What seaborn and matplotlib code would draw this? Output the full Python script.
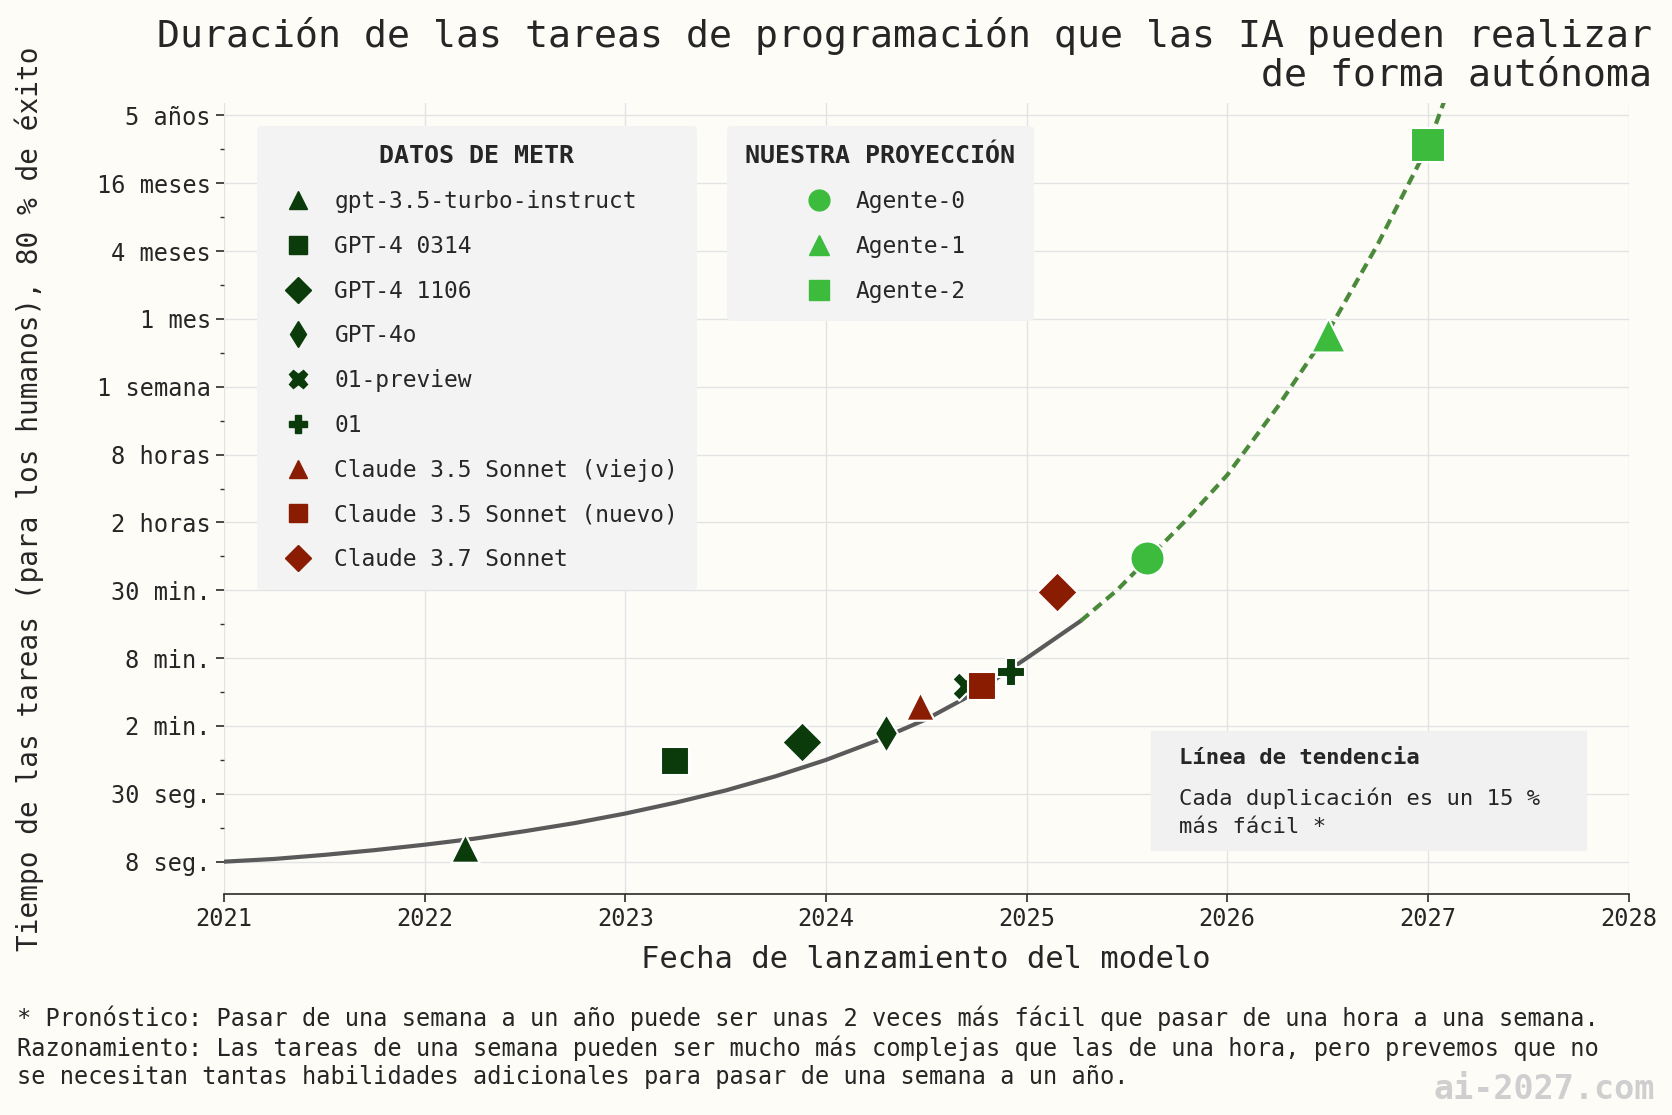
import matplotlib
matplotlib.use("Agg")
import matplotlib.pyplot as plt
import seaborn as sns
import numpy as np

sns.set_theme(style="whitegrid")
plt.rcParams['font.family'] = ['DejaVu Sans Mono', 'DejaVu Sans']

BG = "#fdfcf7"
DG = "#0b3a0b"
RD = "#8a1c02"
BG2 = "#3dbb3d"

# y values in log4 units above 8 seconds (tick index)
tick_labels = ["8 seg.", "30 seg.", "2 min.", "8 min.", "30 min.", "2 horas",
               "8 horas", "1 semana", "1 mes", "4 meses", "16 meses", "5 años"]

metr_names = ["gpt-3.5-turbo-instruct", "GPT-4 0314", "GPT-4 1106", "GPT-4o",
              "01-preview", "01", "Claude 3.5 Sonnet (viejo)",
              "Claude 3.5 Sonnet (nuevo)", "Claude 3.7 Sonnet"]
metr_x = [2022.2, 2023.25, 2023.88, 2024.3, 2024.7, 2024.92, 2024.47, 2024.78, 2025.15]
metr_y = [0.2, 1.48, 1.76, 1.89, 2.59, 2.79, 2.29, 2.59, 3.98]
metr_marker = ["^", "s", "D", "d", "X", "P", "^", "s", "D"]
metr_color = [DG, DG, DG, DG, DG, DG, RD, RD, RD]

agent_names = ["Agente-0", "Agente-1", "Agente-2"]
agent_x = [2025.6, 2026.5, 2027.0]
agent_y = [4.48, 7.76, 10.56]
agent_marker = ["o", "^", "s"]

trend_x = [2021.0, 2021.25, 2021.5, 2021.75, 2022.0, 2022.25, 2022.5, 2022.75, 2023.0, 2023.25,
           2023.5, 2023.75, 2024.0, 2024.25, 2024.5, 2024.75, 2025.0, 2025.27]
trend_y = [0.0, 0.04, 0.1, 0.17, 0.25, 0.34, 0.45, 0.57, 0.71, 0.87,
           1.05, 1.26, 1.5, 1.78, 2.1, 2.5, 3.0, 3.55]
proj_x = [2025.27, 2025.45, 2025.6, 2025.8, 2026.0, 2026.25, 2026.5, 2026.75, 2027.0, 2027.08]
proj_y = [3.55, 4.0, 4.45, 5.05, 5.7, 6.7, 7.8, 9.1, 10.55, 11.2]

fig = plt.figure(figsize=(16.72, 11.15), dpi=100, facecolor=BG)
ax = fig.add_axes([0.134, 0.198, 0.840, 0.710])
ax.set_facecolor(BG)

sns.lineplot(x=trend_x, y=trend_y, ax=ax, color="#5a5a5a", lw=3, zorder=2)
sns.lineplot(x=proj_x, y=proj_y, ax=ax, color="#4a8a3a", lw=3, zorder=2)
ax.lines[-1].set_linestyle((0, (2.5, 1.5)))

h1 = []
for n, x, y, m, c in zip(metr_names, metr_x, metr_y, metr_marker, metr_color):
    s = 420 if m != "d" else 380
    ax.scatter([x], [y], marker=m, s=s, color=c, edgecolor="white", linewidth=1.5, zorder=4)
    h1.append(plt.Line2D([], [], marker=m, ls="", color=c, markersize=13, label=n))
h2 = []
for n, x, y, m in zip(agent_names, agent_x, agent_y, agent_marker):
    ax.scatter([x], [y], marker=m, s=600, color=BG2, edgecolor="white", linewidth=1.5, zorder=4)
    h2.append(plt.Line2D([], [], marker=m, ls="", color=BG2, markersize=15, label=n))

ax.set_xlim(2021, 2028)
ax.set_ylim(-0.48, 11.19)
ax.set_xticks(range(2021, 2029))
ax.set_yticks(range(len(tick_labels)))
ax.set_yticklabels(tick_labels)
ax.set_yticks(np.arange(0.5, 11, 1), minor=True)
ax.tick_params(axis="both", labelsize=17, length=6, color="#333")
ax.tick_params(axis="y", which="minor", length=3, left=True, color="#333")
ax.tick_params(axis="both", which="major", left=True, bottom=True)
ax.grid(True, which="major", color="#e3e3e3", lw=1)
for s in ax.spines.values():
    s.set_visible(False)
ax.spines["bottom"].set_visible(True)
ax.spines["bottom"].set_color("#333")

ax.set_xlabel("Fecha de lanzamiento del modelo", fontsize=22, labelpad=10)
ax.set_ylabel("Tiempo de las tareas (para los humanos), 80 % de éxito", fontsize=20)
ax.yaxis.set_label_coords(-0.128, 0.5)

fig.text(0.988, 0.985, "Duración de las tareas de programación que las IA pueden realizar\nde forma autónoma",
         ha="right", va="top", fontsize=27.5, linespacing=1.1)

leg1 = ax.legend(handles=h1, title="DATOS DE METR", loc="upper left",
                 bbox_to_anchor=(0.015, 0.985), fontsize=16.5, title_fontproperties={"weight": "bold", "size": 18},
                 frameon=True, facecolor="#f3f3f3", edgecolor="none", framealpha=1,
                 labelspacing=0.95, handletextpad=0.6, borderpad=0.8)
ax.add_artist(leg1)
ax.legend(handles=h2, title="NUESTRA PROYECCIÓN", loc="upper left",
          bbox_to_anchor=(0.35, 0.985), fontsize=16.5, title_fontproperties={"weight": "bold", "size": 18},
          frameon=True, facecolor="#f3f3f3", edgecolor="none", framealpha=1,
          labelspacing=0.95, handletextpad=0.6, borderpad=0.8)

ax.text(0.68, 0.185, "Línea de tendencia", transform=ax.transAxes, fontsize=16, weight="bold", va="top", zorder=6)
ax.text(0.68, 0.135, "Cada duplicación es un 15 %\nmás fácil *", transform=ax.transAxes, fontsize=16,
        va="top", linespacing=1.5, zorder=6)
ax.add_patch(plt.Rectangle((0.66, 0.056), 0.31, 0.15, transform=ax.transAxes, color="#f1f1f1", zorder=5))

fig.text(0.01, 0.098, "* Pronóstico: Pasar de una semana a un año puede ser unas 2 veces más fácil que pasar de una hora a una semana.\n"
         "Razonamiento: Las tareas de una semana pueden ser mucho más complejas que las de una hora, pero prevemos que no\n"
         "se necesitan tantas habilidades adicionales para pasar de una semana a un año.",
         fontsize=17, va="top", linespacing=1.2)
fig.text(0.99, 0.008, "ai-2027.com", ha="right", va="bottom", fontsize=24, color="#cfcfcf", weight="bold")

fig.savefig("out.png", dpi=100, facecolor=BG)
